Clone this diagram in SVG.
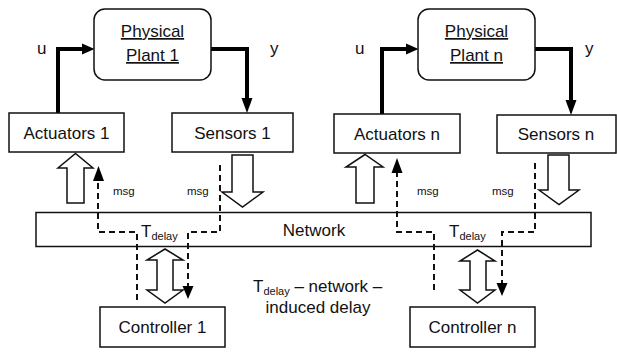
<svg xmlns="http://www.w3.org/2000/svg" width="617" height="352" viewBox="0 0 617 352">
<style>
text{font-family:"Liberation Sans",Arial,sans-serif;fill:#111;}
.lbl{font-size:17px;text-anchor:middle;}
.sm{font-size:11.5px;}
.box{fill:#fff;stroke:#111;stroke-width:1.5;}
.thick{fill:none;stroke:#000;stroke-width:4;}
.hollow{fill:#fff;stroke:#111;stroke-width:1.5;stroke-linejoin:miter;}
.dash{fill:none;stroke:#111;stroke-width:2;stroke-dasharray:6,4;}
.head{fill:#000;}
</style>
<rect width="617" height="352" fill="#fff"/>
<g id="network"><rect class="box" x="36" y="212.5" width="555" height="34"/><text class="lbl" x="314" y="236">Network</text></g>
<g id="connectors">
<path class="thick" d="M58,113 V49 H83"/><polygon class="head" points="82,43.5 94.5,49 82,54.5"/>
<path class="thick" d="M211,49 H247 V99"/><polygon class="head" points="241.5,98 252.5,98 247,113"/>
<path class="thick" d="M382,114 V49 H407"/><polygon class="head" points="406,43.5 418.5,49 406,54.5"/>
<path class="thick" d="M535,49 H571 V101"/><polygon class="head" points="565.5,100 576.5,100 571,115"/>
<polygon class="hollow" points="67,203 67,168 58,168 75.5,153.5 93,168 84,168 84,203"/>
<polygon class="hollow" points="232,155 253,155 253,192 263,192 242.5,207 222,192 232,192"/>
<polygon class="hollow" points="356,203 356,167 346,167 365,154.5 383,167 374,167 374,203"/>
<polygon class="hollow" points="548,155 569,155 569,190 579,190 559,204.5 539,190 548,190"/>
<polygon class="hollow" points="165,249 183,260 173,260 173,290 183,290 165,303 147,290 157,290 157,260 147,260"/>
<polygon class="hollow" points="477.5,250 495,261 486,261 486,290 495,290 477.5,303 460,290 470,290 470,261 460,261"/>
<path class="dash" d="M137,300 V232 H98 V180"/><polygon class="head" points="93,181 104,181 98.5,166"/>
<path class="dash" d="M220,165 V232 H188 V286"/><polygon class="head" points="182.5,286 193.5,286 188,299"/>
<path class="dash" d="M434,290 V232 H397 V172"/><polygon class="head" points="391.5,173 402.5,173 397,158"/>
<path class="dash" d="M535,163 V232 H502 V283"/><polygon class="head" points="496.5,283 507.5,283 502,296"/>
</g>
<g id="plant1"><rect class="box" x="94" y="9" width="117" height="71" rx="11"/><text class="lbl" x="152.5" y="37" text-decoration="underline">Physical</text><text class="lbl" x="152.5" y="61" text-decoration="underline">Plant 1</text></g>
<g id="plantn"><rect class="box" x="418" y="9" width="117" height="71" rx="11"/><text class="lbl" x="476.5" y="37" text-decoration="underline">Physical</text><text class="lbl" x="476.5" y="61" text-decoration="underline">Plant n</text></g>
<g id="act1"><rect class="box" x="9" y="113" width="115" height="39"/><text class="lbl" x="66.5" y="139">Actuators 1</text></g>
<g id="sens1"><rect class="box" x="172" y="113" width="121" height="39"/><text class="lbl" x="232.5" y="139">Sensors 1</text></g>
<g id="actn"><rect class="box" x="334" y="114" width="126" height="39"/><text class="lbl" x="397" y="140">Actuators n</text></g>
<g id="sensn"><rect class="box" x="497" y="115" width="119" height="38"/><text class="lbl" x="556" y="140">Sensors n</text></g>
<g id="ctrl1"><rect class="box" x="100" y="307" width="125" height="40"/><text class="lbl" x="162.5" y="333">Controller 1</text></g>
<g id="ctrln"><rect class="box" x="410" y="307" width="125" height="40"/><text class="lbl" x="472.5" y="333">Controller n</text></g>
<g id="labels">
<text style="font-size:17px" x="37" y="54">u</text>
<text style="font-size:17px" x="270" y="54">y</text>
<text style="font-size:17px" x="355" y="54">u</text>
<text style="font-size:17px" x="585" y="54">y</text>
<text class="sm" x="113" y="195">msg</text>
<text class="sm" x="187" y="195">msg</text>
<text class="sm" x="417" y="195">msg</text>
<text class="sm" x="492" y="195">msg</text>
<text style="font-size:17px" x="141" y="237">T<tspan style="font-size:11px" dy="3">delay</tspan></text>
<text style="font-size:17px" x="449" y="237">T<tspan style="font-size:11px" dy="3">delay</tspan></text>
<text style="font-size:17px" x="253" y="292">T<tspan style="font-size:11px" dy="3">delay</tspan><tspan dy="-3"> – network –</tspan></text>
<text class="lbl" x="318" y="313">induced delay</text>
</g>
</svg>
